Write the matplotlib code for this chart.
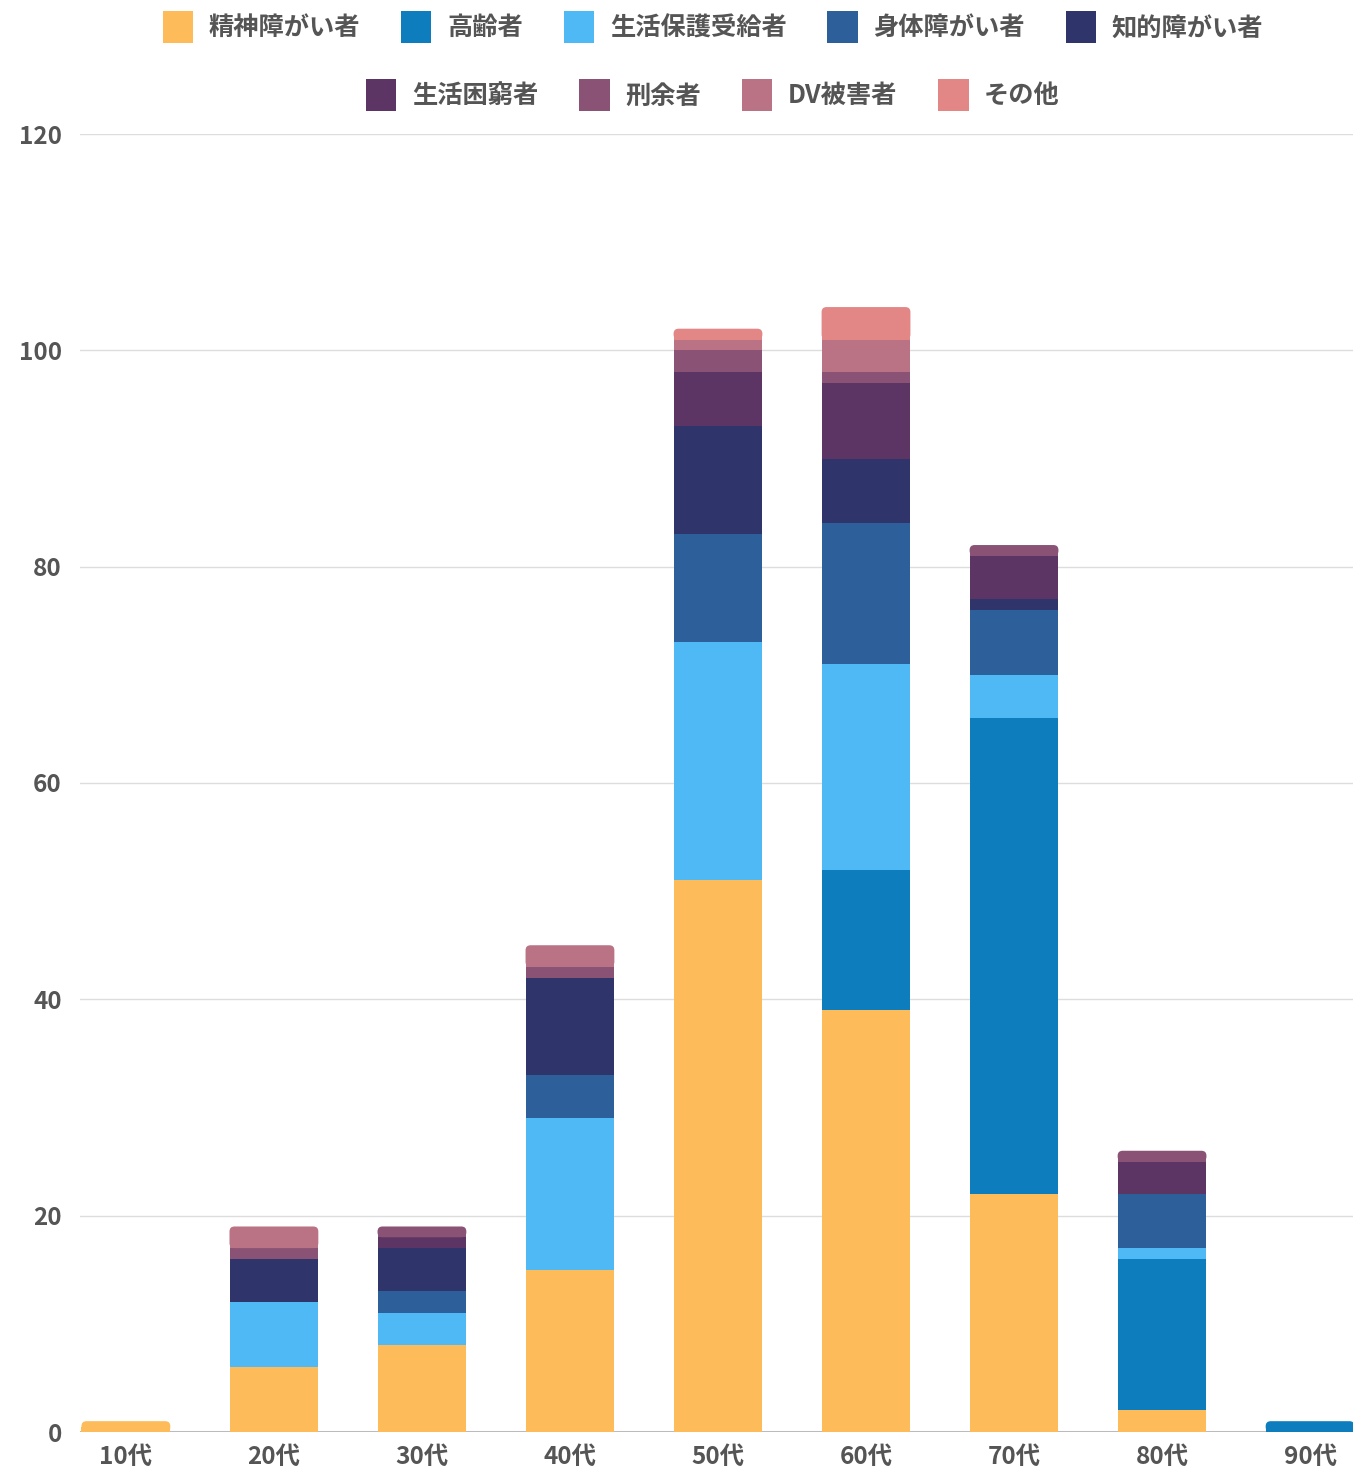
import numpy as np
import matplotlib
matplotlib.use('Agg')
import matplotlib.pyplot as plt
from matplotlib.patches import FancyBboxPatch, Patch

plt.rcParams['font.family'] = ['Noto Sans CJK JP', 'DejaVu Sans']
plt.rcParams['font.weight'] = 'bold'

# データ
ages = ['10代', '20代', '30代', '40代', '50代', '60代', '70代', '80代', '90代']
series_names = ['精神障がい者', '高齢者', '生活保護受給者', '身体障がい者', '知的障がい者',
                '生活困窮者', '刑余者', 'DV被害者', 'その他']
seishin = [1, 6, 8, 15, 51, 39, 22, 2, 0]
koureisha = [0, 0, 0, 0, 0, 13, 44, 14, 1]
seiho = [0, 6, 3, 14, 22, 19, 4, 1, 0]
shintai = [0, 0, 2, 4, 10, 13, 6, 5, 0]
chiteki = [0, 4, 4, 9, 10, 6, 1, 0, 0]
konkyu = [0, 0, 1, 0, 5, 7, 4, 3, 0]
keiyo = [0, 1, 1, 1, 2, 1, 1, 1, 0]
dv = [0, 2, 0, 2, 1, 3, 0, 0, 0]
sonota = [0, 0, 0, 0, 1, 3, 0, 0, 0]

colors = ['#FDBB5A', '#0D7DBE', '#4FB9F5', '#2D5F9A', '#2F346B',
          '#5C3564', '#8A5274', '#B97385', '#E38686']

data = np.array([seishin, koureisha, seiho, shintai, chiteki, konkyu, keiyo, dv, sonota], dtype=float)

fig = plt.figure(figsize=(13.53, 14.72), dpi=100)
ax = fig.add_axes([80 / 1353, 1 - 1432 / 1472, 1 - 80 / 1353, (1432 - 134) / 1472])

x = np.arange(len(ages))
w = 0.6
ax.set_xlim(-0.31, 8.29)
ax.set_ylim(0, 120)

# 角丸の大きさ（ピクセル→データ単位）
px_x = 148.0
px_y = (1432 - 134) / 120
rx = 5 / px_x
ry = 5 / px_y

bottom = np.zeros(len(ages))
top_idx = [max([k for k in range(len(data)) if data[k, i] > 0]) for i in range(len(ages))]
for k in range(len(data)):
    for i in range(len(ages)):
        h = data[k, i]
        if h <= 0:
            continue
        if top_idx[i] == k:
            ax.bar(x[i], h / 2, w, bottom=bottom[i], color=colors[k], linewidth=0, zorder=3)
            p = FancyBboxPatch((x[i] - w / 2, bottom[i]), w, h,
                               boxstyle=f"round,pad=0,rounding_size={rx}",
                               mutation_aspect=ry / rx, facecolor=colors[k],
                               linewidth=0, zorder=3)
            ax.add_patch(p)
        else:
            ax.bar(x[i], h, w, bottom=bottom[i], color=colors[k], linewidth=0, zorder=3)
    bottom = bottom + data[k]

for s in ax.spines.values():
    s.set_visible(False)
ax.set_yticks([0, 20, 40, 60, 80, 100, 120])
ax.grid(axis='y', color='#dddddd', linewidth=1, zorder=0)
ax.axhline(0, color='#bbbbbb', linewidth=2.2, zorder=2)
ax.set_xticks(x)
ax.set_xticklabels(ages)
ax.tick_params(axis='both', length=0, labelsize=17.5, labelcolor='#555555')
ax.tick_params(axis='y', pad=13)
ax.tick_params(axis='x', pad=9)

# 凡例（2段、中央揃え）
handles = [Patch(facecolor=c, linewidth=0) for c in colors]
kw = dict(frameon=False, fontsize=18.2, handlelength=1.2, handleheight=1.55,
          handletextpad=0.62, columnspacing=1.62, labelcolor='#555555',
          loc='center', borderpad=0, borderaxespad=0)
leg1 = fig.legend(handles[:5], series_names[:5], ncol=5,
                  bbox_to_anchor=(713 / 1353, 1 - 27 / 1472), **kw)
leg2 = fig.legend(handles[5:], series_names[5:], ncol=4,
                  bbox_to_anchor=(713 / 1353, 1 - 95 / 1472), **kw)

fig.savefig('out.png', dpi=100)
